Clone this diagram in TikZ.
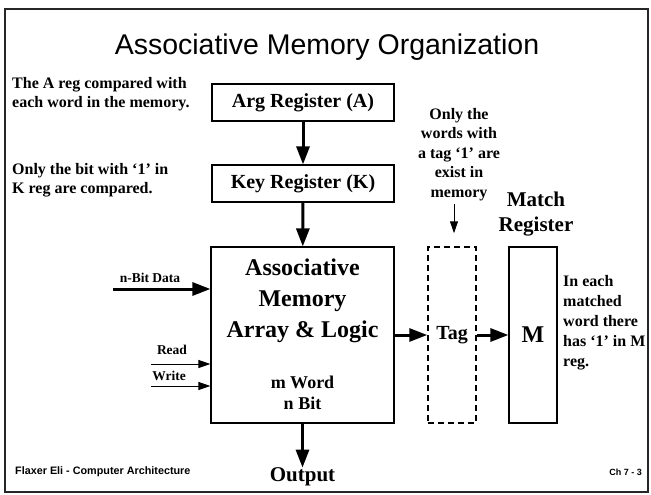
\documentclass[tikz,border=0pt]{standalone}
\usepackage{fontspec}
\setmainfont{Liberation Serif}
\newfontfamily\arialfont{Liberation Sans}
\usetikzlibrary{arrows.meta}
\begin{document}
\begin{tikzpicture}[x=1pt,y=1pt,
  box/.style={draw, line width=1.2pt, inner sep=0pt},
  bigarrow/.style={line width=3pt, -{Triangle[length=18pt,width=13pt]}},
  thinarrow/.style={line width=1pt, -{Triangle[length=12pt,width=8pt]}},
  note/.style={font=\bfseries\fontsize{16}{19.5}\selectfont, inner sep=0pt},
  lbl/.style={font=\bfseries\fontsize{13.5}{16}\selectfont, inner sep=0pt},
  foot/.style={font=\arialfont\bfseries\fontsize{10.8}{12}\selectfont, inner sep=0pt},
]
\useasboundingbox (0,0) rectangle (651,-495);
\draw[line width=1.5pt, black!85] (5,-9) rectangle (648,-492);

\node[font=\arialfont\fontsize{28.5}{34}\selectfont, inner sep=0pt] (title) at (327,-47.5) {Associative Memory Organization};

% left notes
\node[note, anchor=west, align=left] (noteA) at (12,-94) {The A reg compared with\\each word in the memory.};
\node[note, anchor=west, align=left] (noteK) at (12,-180) {Only the bit with `1' in\\K reg are compared.};

% registers
\node[box, minimum width=182pt, minimum height=37pt, font=\bfseries\fontsize{20}{24}\selectfont] (arg) at (303,-102.5) {Arg Register (A)};
\node[box, minimum width=182pt, minimum height=37pt, font=\bfseries\fontsize{20}{24}\selectfont] (key) at (303,-183.5) {Key Register (K)};

% memory array
\node[box, minimum width=183pt, minimum height=176pt] (mem) at (302.5,-335) {};
\node[font=\bfseries\fontsize{24}{31}\selectfont, align=center, inner sep=0pt] (memtxt) at (302.5,-301) {Associative\\Memory\\Array \& Logic};
\node[font=\bfseries\fontsize{18}{21}\selectfont, align=center, inner sep=0pt] (memsize) at (302.5,-392.5) {m Word\\n Bit};

% tag and match register
\node[draw, line width=1.5pt, dash pattern=on 6pt off 4pt, minimum width=48pt, minimum height=176pt, inner sep=0pt, font=\bfseries\fontsize{20}{24}\selectfont] (tagbox) at (452,-335) {Tag};
\node[box, minimum width=48pt, minimum height=176pt, font=\bfseries\fontsize{24}{28}\selectfont] (mbox) at (533,-335) {M};
\node[font=\bfseries\fontsize{21}{25}\selectfont, align=center, inner sep=0pt] (match) at (536,-214.5) {Match\\Register};

% right notes
\node[note, align=center] (tagnote) at (459,-154.5) {Only the\\words with\\a tag `1' are\\exist in\\memory};
\node[note, anchor=west, align=left, font=\bfseries\fontsize{16}{20}\selectfont] (mnote) at (563,-323) {In each\\matched\\word there\\has `1' in M\\reg.};

% inputs
\coordinate (datain) at (113,-289);
\coordinate (readin) at (151,-364);
\coordinate (writein) at (151,-386);
\node[lbl] (datalbl) at (150,-278) {n-Bit Data};
\node[lbl] (readlbl) at (172,-350) {Read};
\node[lbl] (writelbl) at (169,-376) {Write};

% output
\node[font=\bfseries\fontsize{21}{25}\selectfont, inner sep=0pt] (output) at (302.5,-477) {Output};

% connectors
\draw[bigarrow] (arg) -- (key);
\draw[bigarrow] (key) -- (mem);
\draw[bigarrow] (mem) -- (tagbox);
\draw[bigarrow] (tagbox) -- (mbox);
\draw[bigarrow] (mem.south) -- (output.north);
\draw[bigarrow] (datain) -- (datain -| mem.west);
\draw[thinarrow] (readin) -- (readin -| mem.west);
\draw[thinarrow] (writein) -- (writein -| mem.west);
\draw[thinarrow, shorten <=3pt, shorten >=13pt] ([xshift=2pt]tagbox.north |- tagnote.south) -- ([xshift=2pt]tagbox.north);

% footer
\node[foot, anchor=west] (footl) at (15,-472) {Flaxer Eli - Computer Architecture};
\node[foot, anchor=east, font=\arialfont\bfseries\fontsize{9}{11}\selectfont] (footr) at (642,-472) {Ch 7 - 3};
\end{tikzpicture}
\end{document}
